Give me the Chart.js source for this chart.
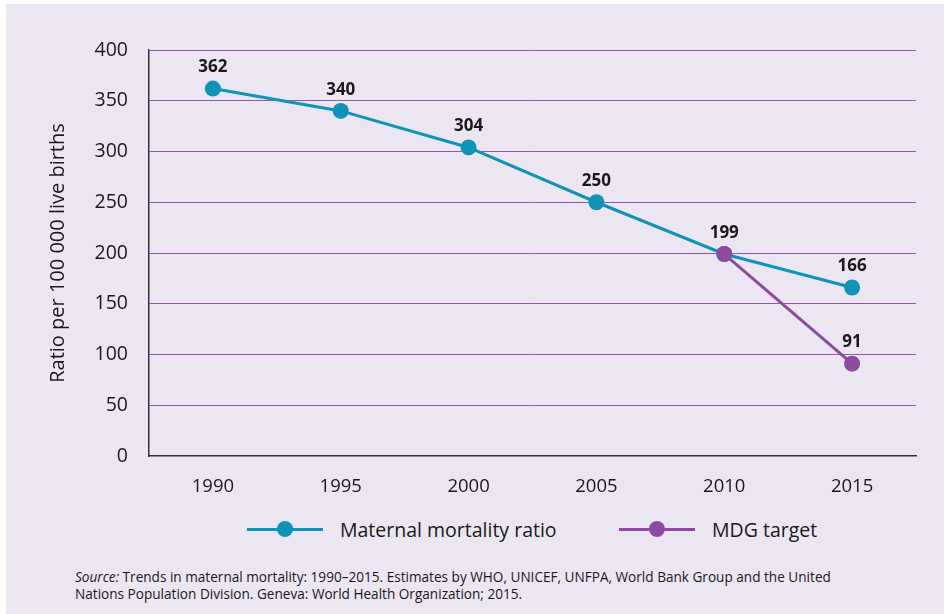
<!DOCTYPE html>
<html>
<head>
<meta charset="utf-8">
<script src="https://cdn.jsdelivr.net/npm/chart.js@4.4.1/dist/chart.umd.min.js"></script>
<style>
    html, body { margin: 0; padding: 0; background: #ffffff; }
    body { width: 944px; height: 614px; position: relative; overflow: hidden; font-family: "Open Sans", sans-serif; color: #1a1a1a; }
    .panel { position: absolute; left: 6px; top: 4px; right: 0; bottom: 0; background: #ece6f2; }
    .chart-box { position: absolute; left: 0; top: 0; width: 944px; height: 510px; }
    .legend-item { position: absolute; top: 517px; height: 24px; display: flex; align-items: center; font-size: 19.5px; }
    .legend-mark { position: relative; width: 76px; height: 24px; margin-right: 17px; }
    .legend-mark .line { position: absolute; left: 0; right: 0; top: 11px; height: 3px; }
    .legend-mark .dot { position: absolute; left: 30px; top: 4px; width: 16px; height: 16px; border-radius: 50%; }
    .source { position: absolute; left: 75px; top: 568px; font-size: 13.6px; line-height: 17px; }
</style>
</head>
<body>
<div class="panel"></div>
<div class="chart-box"><canvas id="chart"></canvas></div>

<div class="legend-item" style="left:247px">
    <div class="legend-mark"><div class="line" style="background:#0f93b6"></div><div class="dot" style="background:#0f93b6"></div></div>
    <span>Maternal mortality ratio</span>
</div>
<div class="legend-item" style="left:619px">
    <div class="legend-mark"><div class="line" style="background:#8b4c9f"></div><div class="dot" style="background:#8b4c9f"></div></div>
    <span>MDG target</span>
</div>

<div class="source"><i>Source:</i> Trends in maternal mortality: 1990–2015. Estimates by WHO, UNICEF, UNFPA, World Bank Group and the United<br>Nations Population Division. Geneva: World Health Organization; 2015.</div>

<script>
const years = ["1990", "1995", "2000", "2005", "2010", "2015"];
const mmrValues = [362, 340, 304, 250, 199, 166];
const mdgValues = [null, null, null, null, 199, 91];
const mmrLabels = ["362", "340", "304", "250", "199", "166"];
const mdgLabels = [null, null, null, null, null, "91"];
const yTicks = [0, 50, 100, 150, 200, 250, 300, 350, 400];

const tealColor = "#0f93b6";
const purpleColor = "#8b4c9f";
const textColor = "#1a1a1a";

const pointLabels = {
    id: "pointLabels",
    afterDatasetsDraw(chart) {
        const { ctx } = chart;
        ctx.save();
        ctx.font = "bold 17px 'Open Sans'";
        ctx.fillStyle = textColor;
        ctx.textAlign = "center";
        ctx.textBaseline = "middle";
        chart.data.datasets.forEach((ds, i) => {
            const meta = chart.getDatasetMeta(i);
            meta.data.forEach((pt, j) => {
                const label = ds.pointText[j];
                if (!label) return;
                ctx.fillText(label, pt.x, pt.y - 21);
            });
        });
        ctx.restore();
    }
};

const yTitle = {
    id: "yTitle",
    afterDraw(chart) {
        const { ctx, chartArea } = chart;
        ctx.save();
        ctx.translate(58, (chartArea.top + chartArea.bottom) / 2);
        ctx.rotate(-Math.PI / 2);
        ctx.font = "20px 'Open Sans'";
        ctx.fillStyle = textColor;
        ctx.textAlign = "center";
        ctx.textBaseline = "middle";
        ctx.fillText("Ratio per 100 000 live births", 0, 0);
        ctx.restore();
    }
};

new Chart(document.getElementById("chart"), {
    type: "line",
    data: {
        labels: years,
        datasets: [
            {
                label: "Maternal mortality ratio",
                data: mmrValues,
                pointText: mmrLabels,
                borderColor: tealColor,
                backgroundColor: tealColor,
                borderWidth: 3,
                pointRadius: 8,
                pointHoverRadius: 8,
                pointBorderWidth: 0,
                tension: 0,
                order: 1
            },
            {
                label: "MDG target",
                data: mdgValues,
                pointText: mdgLabels,
                borderColor: purpleColor,
                backgroundColor: purpleColor,
                borderWidth: 3,
                pointRadius: 8,
                pointHoverRadius: 8,
                pointBorderWidth: 0,
                tension: 0,
                order: 0
            }
        ]
    },
    options: {
        animation: false,
        responsive: true,
        maintainAspectRatio: false,
        layout: { padding: { top: 50, right: 28, left: 0, bottom: 0 } },
        plugins: {
            legend: { display: false },
            tooltip: { enabled: false }
        },
        scales: {
            x: {
                offset: true,
                afterFit(scale) { scale.height = 54; },
                grid: { display: false, drawTicks: false },
                border: { display: true, color: "#333333", width: 1.5 },
                ticks: {
                    color: textColor,
                    padding: 20,
                    font: { size: 18.5, family: "Open Sans" }
                }
            },
            y: {
                min: 0,
                max: 400,
                afterFit(scale) { scale.width = 149; },
                afterBuildTicks(scale) { scale.ticks = yTicks.map(v => ({ value: v })); },
                grid: {
                    drawTicks: false,
                    color: ctx => (ctx.tick && ctx.tick.value === 0 ? "rgba(0,0,0,0)" : "#9459ac"),
                    lineWidth: 1
                },
                border: { display: true, color: "#333333", width: 1.5 },
                ticks: {
                    color: textColor,
                    padding: 21,
                    font: { size: 19.5, family: "Open Sans" }
                }
            }
        }
    },
    plugins: [pointLabels, yTitle]
});
</script>
</body>
</html>
